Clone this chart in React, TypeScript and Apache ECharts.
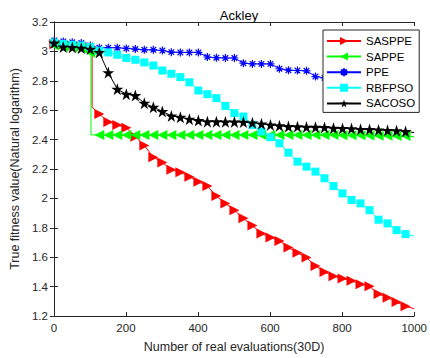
import React, { useEffect, useRef } from "react";
import * as echarts from "echarts";

const evals = [1, 26, 51, 76, 101, 126, 151, 176, 201, 226, 251, 276, 301, 326, 351, 376, 401, 426, 451, 476, 501, 526, 551, 576, 601, 626, 651, 676, 701, 726, 751, 776, 801, 826, 851, 876, 901, 926, 951, 976];

const sasppe = [3.05, 3.045, 3.04, 3.035, 3.03, 2.575, 2.52, 2.5, 2.48, 2.42, 2.36, 2.28, 2.245, 2.195, 2.178, 2.148, 2.113, 2.085, 2.016, 1.966, 1.92, 1.865, 1.815, 1.762, 1.734, 1.711, 1.666, 1.63, 1.598, 1.54, 1.5, 1.471, 1.455, 1.439, 1.416, 1.402, 1.35, 1.325, 1.295, 1.266];
const sasppeJump = [[106, 3.03], [106, 2.62]];
const sasppeEnd = 1.25;

const sappe = [3.04, 3.03, 3.025, 3.02, 2.99, 2.432, 2.432, 2.432, 2.432, 2.432, 2.432, 2.432, 2.432, 2.432, 2.432, 2.432, 2.432, 2.432, 2.432, 2.432, 2.432, 2.432, 2.432, 2.432, 2.432, 2.432, 2.432, 2.432, 2.432, 2.432, 2.432, 2.431, 2.43, 2.43, 2.429, 2.428, 2.427, 2.426, 2.425, 2.424];
const sappeJump = [[103, 2.99], [103, 2.432]];
const sappeEnd = 2.42;

const ppe = [3.075, 3.068, 3.062, 3.057, 3.04, 3.025, 3.025, 3.025, 3.02, 3.016, 3.011, 3.011, 3.006, 2.995, 2.993, 2.993, 2.993, 2.962, 2.957, 2.955, 2.955, 2.92, 2.915, 2.915, 2.915, 2.882, 2.872, 2.87, 2.868, 2.829, 2.82, 2.81, 2.8, 2.79, 2.775, 2.765, 2.755, 2.745, 2.73, 2.722];
const ppeEnd = 2.72;

const rbfpso = [3.06, 3.05, 3.045, 3.04, 3.03, 3.005, 2.993, 2.977, 2.955, 2.943, 2.925, 2.904, 2.87, 2.848, 2.825, 2.79, 2.734, 2.709, 2.682, 2.629, 2.58, 2.557, 2.5, 2.455, 2.416, 2.375, 2.311, 2.25, 2.216, 2.182, 2.137, 2.084, 2.034, 1.989, 1.966, 1.92, 1.855, 1.83, 1.784, 1.757];
const rbfpsoEnd = 1.743;

const sacoso = [3.057, 3.03, 3.027, 3.022, 3.016, 2.993, 2.856, 2.743, 2.709, 2.7, 2.648, 2.62, 2.592, 2.561, 2.552, 2.539, 2.53, 2.522, 2.522, 2.521, 2.52, 2.519, 2.514, 2.507, 2.5, 2.494, 2.489, 2.488, 2.485, 2.484, 2.483, 2.477, 2.476, 2.475, 2.47, 2.469, 2.466, 2.463, 2.461, 2.455];
const sacosoEnd = 2.448;

const xTicks = { min: 0, max: 1000, interval: 200 };
const yTicks = { min: 1.2, max: 3.2, interval: 0.2 };

const STAR = "path://M50 0 L61.2 34.6 L97.6 34.6 L68 55.9 L79.4 90.5 L50 69 L20.6 90.5 L32 55.9 L2.4 34.6 L38.8 34.6 Z";
const ASTER = "path://M5 0 L5 10 M0 5 L10 5 M1.5 1.5 L8.5 8.5 M1.5 8.5 L8.5 1.5";

function build(vals: number[], jump: number[][], end: number) {
  const pts: any[] = evals.map((x, i) => ({ value: [x, vals[i]] }));
  jump.forEach((p) => pts.push({ value: p, symbol: "none" }));
  pts.push({ value: [1000, end], symbol: "none" });
  pts.sort((a, b) => a.value[0] - b.value[0]);
  return pts;
}

const FONT = "'Liberation Sans', Arial, Helvetica, sans-serif";
const AX = "#262626";

export default function App() {
  const ref = useRef<HTMLDivElement>(null);
  useEffect(() => {
    if (!ref.current) return;
    const chart = echarts.init(ref.current, null, { renderer: "svg" });
    const axisCommon = {
      axisLine: { show: true, lineStyle: { color: AX, width: 1 } },
      axisTick: { show: true, inside: true, length: 4, lineStyle: { color: AX } },
      splitLine: { show: false },
    };
    const lineSeries = (name: string, color: string, data: any[], symbol: string, size: number, rot = 0, extra: any = {}) => ({
      name,
      type: "line",
      data,
      symbol,
      symbolSize: size,
      symbolRotate: rot,
      showSymbol: true,
      xAxisIndex: 0,
      yAxisIndex: 0,
      lineStyle: { color, width: 1 },
      itemStyle: { color, ...extra },
      emphasis: { disabled: true },
      clip: true,
    });
    chart.setOption({
      animation: false,
      textStyle: { fontFamily: FONT },
      title: {
        text: "Ackley",
        left: 234,
        textAlign: "center",
        top: 4,
        textStyle: { fontSize: 13, fontWeight: "normal", color: "#000", fontFamily: FONT },
      },
      grid: { left: 48, right: 9, top: 22, bottom: 42 },
      legend: {
        orient: "vertical",
        left: 323,
        top: 30,
        padding: [5, 4, 3, 3],
        itemGap: 3.6,
        itemWidth: 34,
        itemHeight: 10,
        backgroundColor: "#fff",
        borderColor: AX,
        borderWidth: 1,
        borderRadius: 0,
        textStyle: { fontSize: 11.5, color: "#000", fontFamily: FONT },
        data: ["SASPPE", "SAPPE", "PPE", "RBFPSO", "SACOSO"],
      },
      xAxis: [
        {
          type: "value",
          ...xTicks,
          position: "bottom",
          ...axisCommon,
          axisLabel: { color: AX, fontSize: 11.5, margin: 6, fontFamily: FONT, formatter: (v: number) => String(v) },
          name: "Number of real evaluations(30D)",
          nameLocation: "middle",
          nameGap: 24,
          nameTextStyle: { color: AX, fontSize: 12.5, fontFamily: FONT },
        },
        {
          type: "value",
          ...xTicks,
          position: "top",
          ...axisCommon,
          axisLabel: { show: false },
        },
      ],
      yAxis: [
        {
          type: "value",
          ...yTicks,
          position: "left",
          ...axisCommon,
          axisLabel: { color: AX, fontSize: 11.5, margin: 6, fontFamily: FONT },
          name: "True fitness value(Natural logarithm)",
          nameLocation: "middle",
          nameGap: 30,
          nameTextStyle: { color: AX, fontSize: 12.5, fontFamily: FONT },
        },
        {
          type: "value",
          ...yTicks,
          position: "right",
          ...axisCommon,
          axisLabel: { show: false },
        },
      ],
      series: [
        lineSeries("SASPPE", "#ff0000", build(sasppe, sasppeJump, sasppeEnd), "triangle", 10, -90),
        lineSeries("SAPPE", "#00ff00", build(sappe, sappeJump, sappeEnd), "triangle", 10, 90),
        lineSeries("PPE", "#0000ff", build(ppe, [], ppeEnd), ASTER, 8, 0, { borderColor: "#0000ff", borderWidth: 1.2 }),
        lineSeries("RBFPSO", "#00ffff", build(rbfpso, [], rbfpsoEnd), "rect", 8),
        lineSeries("SACOSO", "#000000", build(sacoso, [], sacosoEnd), STAR, 12),
      ],
    });
    return () => chart.dispose();
  }, []);
  return <div ref={ref} style={{ position: "fixed", left: 0, top: 0, width: 430, height: 358, background: "#fff" }} />;
}
